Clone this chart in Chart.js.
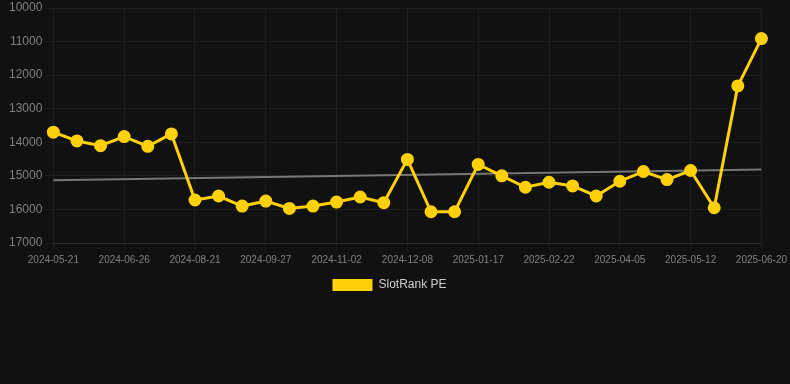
<!DOCTYPE html>
<html>
<head>
<meta charset="utf-8">
<script src="https://cdn.jsdelivr.net/npm/chart.js@4"></script>
<style>
  html, body { margin: 0; padding: 0; background: #111111; }
  #wrap { position: relative; width: 790px; height: 301px; }
</style>
</head>
<body>
<div id="wrap"><canvas id="c"></canvas></div>
<script>
const categories = [
  "2024-05-21","2024-06-02","2024-06-14","2024-06-26","2024-07-14","2024-08-02",
  "2024-08-21","2024-09-02","2024-09-15","2024-09-27","2024-10-09","2024-10-21",
  "2024-11-02","2024-11-14","2024-11-26","2024-12-08","2024-12-21","2025-01-04",
  "2025-01-17","2025-01-29","2025-02-10","2025-02-22","2025-03-08","2025-03-22",
  "2025-04-05","2025-04-17","2025-04-30","2025-05-12","2025-05-25","2025-06-07",
  "2025-06-20"
];
const slotRankPE = [
  13700, 13960, 14100, 13830, 14120, 13750,
  15720, 15600, 15900, 15750, 15970, 15900,
  15780, 15630, 15800, 14510, 16070, 16070,
  14660, 15000, 15340, 15190, 15300, 15600,
  15160, 14870, 15110, 14840, 15950, 12320,
  10910
];
const trendStart = 15130;
const trendEnd = 14810;
const yTicks = [10000, 11000, 12000, 13000, 14000, 15000, 16000, 17000];

const trendData = categories.map((_, i) =>
  i === 0 ? trendStart : (i === categories.length - 1 ? trendEnd : null));

new Chart(document.getElementById('c'), {
  type: 'line',
  data: {
    labels: categories,
    datasets: [
      {
        label: 'SlotRank PE',
        data: slotRankPE,
        borderColor: '#FFD10A',
        backgroundColor: '#FFD10A',
        borderWidth: 3,
        pointRadius: 5,
        pointHoverRadius: 5,
        pointBackgroundColor: '#FFD10A',
        pointBorderColor: '#FFD10A',
        tension: 0,
        order: 1
      },
      {
        label: 'trend',
        data: trendData,
        borderColor: '#777777',
        backgroundColor: '#777777',
        borderWidth: 2,
        pointRadius: 0,
        spanGaps: true,
        order: 2
      }
    ]
  },
  options: {
    responsive: true,
    maintainAspectRatio: false,
    animation: false,
    layout: { padding: { left: 6, right: 17, top: 0, bottom: 0 } },
    plugins: {
      legend: {
        position: 'bottom',
        labels: {
          color: '#cccccc',
          font: { size: 12, family: 'Liberation Sans, Arial, sans-serif' },
          boxWidth: 40,
          boxHeight: 12,
          filter: (item) => item.text !== 'trend',
          generateLabels: (chart) => {
            const items = Chart.defaults.plugins.legend.labels.generateLabels(chart);
            items.forEach(it => { it.lineWidth = 0; });
            return items;
          }
        }
      },
      tooltip: { enabled: false }
    },
    scales: {
      x: {
        offset: false,
        grid: { color: 'rgba(255,255,255,0.05)', tickLength: 8 },
        border: { color: 'rgba(255,255,255,0.08)' },
        ticks: {
          color: '#808080',
          font: { size: 10, family: 'Liberation Sans, Arial, sans-serif' },
          autoSkip: false,
          maxRotation: 0,
          callback: function(v, i) { return i % 3 === 0 ? categories[i] : null; }
        }
      },
      y: {
        reverse: true,
        min: 10000,
        max: 17000,
        afterBuildTicks: (axis) => { axis.ticks = yTicks.map(v => ({ value: v })); },
        grid: { color: 'rgba(255,255,255,0.05)', tickLength: 8 },
        border: { display: false },
        ticks: {
          color: '#808080',
          font: { size: 12, family: 'Liberation Sans, Arial, sans-serif', lineHeight: 0.45 },
          callback: (v) => String(v)
        }
      }
    }
  }
});
</script>
</body>
</html>
